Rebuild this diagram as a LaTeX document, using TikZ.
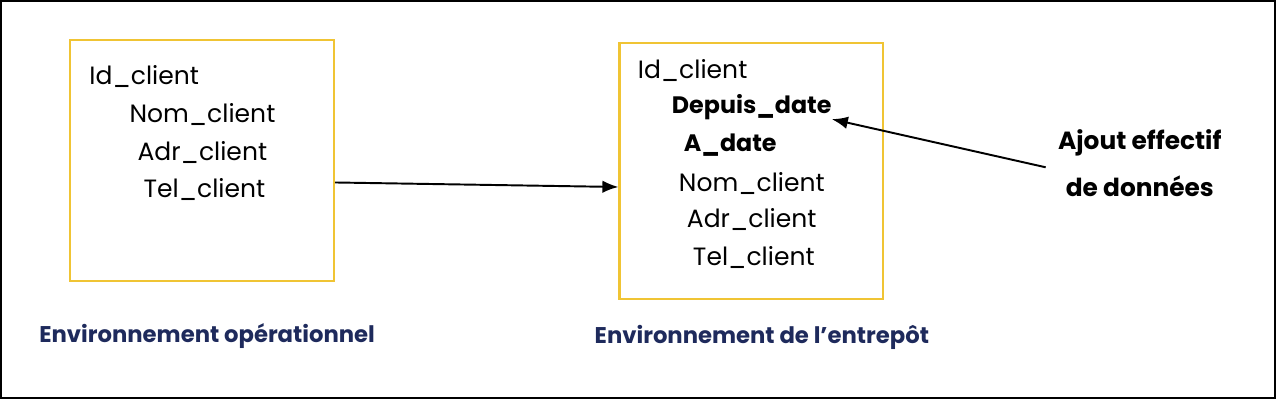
\documentclass[tikz,border=0pt]{standalone}
\usepackage{fontspec}
\setmainfont{Poppins}
\usepackage{tikz}
\usetikzlibrary{positioning,arrows.meta}

\definecolor{boxyellow}{RGB}{240,196,52}
\definecolor{labelnavy}{RGB}{30,42,92}

\tikzset{
  envbox/.style={draw=boxyellow,line width=1.3pt},
  attr/.style={anchor=west,inner sep=0pt,font=\fontsize{14.2}{17}\selectfont},
  attrbold/.style={attr,font=\fontsize{13.5}{16}\selectfont\bfseries},
  envlabel/.style={anchor=west,inner sep=0pt,text=labelnavy,
    font=\fontsize{12.9}{15}\selectfont\bfseries},
  flow/.style={-{Latex[length=3.2mm,width=2.5mm]},line width=1.1pt}
}

\begin{document}
\begin{tikzpicture}[x=0.02cm,y=-0.02cm]
      \draw[line width=1pt] (2,2) rectangle (1273,398);

      % environnement operationnel
      \node[envbox,minimum width=263*0.02cm,minimum height=240*0.02cm,anchor=north west]
        (op) at (70,40) {};
      \node[attr] (opid) at (90,77) {Id\_client};
      \node[attr] (opnom) at (130,115) {Nom\_client};
      \node[attr] (opadr) at (138,153) {Adr\_client};
      \node[attr] (optel) at (144,190) {Tel\_client};
      \node[envlabel] (oplabel) at (40,336) {Environnement opérationnel};

      % environnement de l'entrepot
      \node[envbox,minimum width=263*0.02cm,minimum height=255*0.02cm,anchor=north west]
        (wh) at (618,43) {};
      \node[attr] (whid) at (637,71) {Id\_client};
      \node[attrbold] (whdep) at (671,108) {Depuis\_date};
      \node[attrbold] (whadate) at (683,146) {A\_date};
      \node[attr] (whnom) at (678,184) {Nom\_client};
      \node[attr] (whadr) at (686,220) {Adr\_client};
      \node[attr] (whtel) at (692,258) {Tel\_client};
      \node[envlabel] (whlabel) at (594,338) {Environnement de l’entrepôt};

      % ajout
      \node[attrbold,anchor=center,align=center,
        font=\fontsize{14.1}{27}\selectfont\bfseries] (ajout) at (1138,164)
        {Ajout effectif\\de données};

      \draw[flow] ([yshift=-22*0.02cm]op.east) -- ([yshift=-16*0.02cm]wh.west);
      \draw[flow] ([xshift=-12*0.02cm,yshift=-4*0.02cm]ajout.west) -- ([xshift=0,yshift=-12*0.02cm]whdep.east);
\end{tikzpicture}
\end{document}
